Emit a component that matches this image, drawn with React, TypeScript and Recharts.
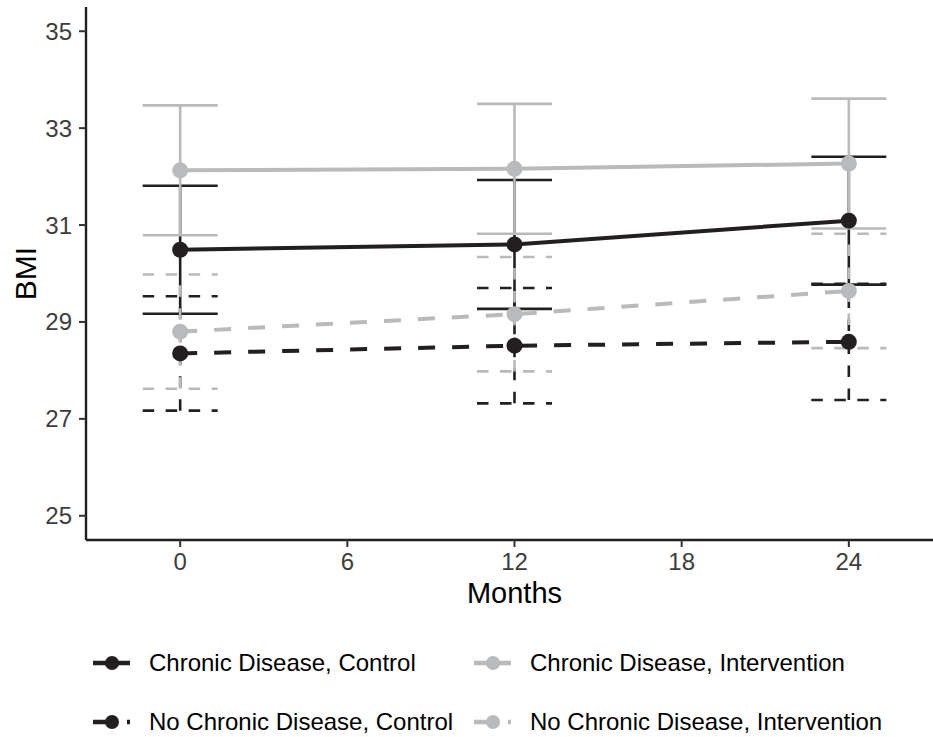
import React from 'react';
import { ComposedChart, ErrorBar, Label, Line, XAxis, YAxis } from 'recharts';

const months = [0, 12, 24];

const chronicControlBmi = [30.49, 30.6, 31.09];
const chronicControlErr = [1.32, 1.33, 1.32];
const chronicInterventionBmi = [32.13, 32.16, 32.27];
const chronicInterventionErr = [1.34, 1.34, 1.34];
const noChronicControlBmi = [28.35, 28.51, 28.59];
const noChronicControlErr = [1.18, 1.19, 1.2];
const noChronicInterventionBmi = [28.8, 29.16, 29.64];
const noChronicInterventionErr = [1.18, 1.18, 1.18];

const xTicks = [0, 6, 12, 18, 24];
const yTicks = [25, 27, 29, 31, 33, 35];

const BLACK = '#231f20';
const GRAY = '#b9babc';
const FONT = '"Liberation Sans", Arial, Helvetica, sans-serif';

type Series = {
  name: string;
  values: number[];
  errors: number[];
  color: string;
  dashed: boolean;
};

const series: Series[] = [
  { name: 'Chronic Disease, Control', values: chronicControlBmi, errors: chronicControlErr, color: BLACK, dashed: false },
  { name: 'Chronic Disease, Intervention', values: chronicInterventionBmi, errors: chronicInterventionErr, color: GRAY, dashed: false },
  { name: 'No Chronic Disease, Control', values: noChronicControlBmi, errors: noChronicControlErr, color: BLACK, dashed: true },
  { name: 'No Chronic Disease, Intervention', values: noChronicInterventionBmi, errors: noChronicInterventionErr, color: GRAY, dashed: true },
];

const toRows = (s: Series) =>
  months.map((m, i) => ({ month: m, bmi: s.values[i], err: s.errors[i] }));

const tickStyle = { fill: '#3d3d3d', fontSize: 24, fontFamily: FONT };

const Legend: React.FC = () => (
  <div
    style={{
      position: 'absolute',
      left: 93,
      top: 648,
      display: 'grid',
      gridTemplateColumns: '381px auto',
      rowGap: 29,
    }}
  >
    {series.map((s) => (
      <div key={s.name} style={{ display: 'flex', alignItems: 'center', height: 30 }}>
        <svg width={37} height={18}>
          <line
            x1={0}
            y1={9}
            x2={37}
            y2={9}
            stroke={s.color}
            strokeWidth={4.5}
            strokeDasharray={s.dashed ? '17 17' : undefined}
          />
          <circle cx={19} cy={9} r={7} fill={s.color} />
        </svg>
        <span style={{ marginLeft: 19, fontSize: 24, fontFamily: FONT, color: '#000', whiteSpace: 'nowrap' }}>
          {s.name}
        </span>
      </div>
    ))}
  </div>
);

export default function App() {
  return (
    <div style={{ position: 'absolute', left: 0, top: 0, width: 933, height: 737, overflow: 'hidden', background: '#fff' }}>
      <ComposedChart width={943} height={737} margin={{ top: 7, right: 0, bottom: 0, left: 0 }}>
        <XAxis
          dataKey='month'
          type='number'
          domain={[-3.38, 27.38]}
          allowDataOverflow
          ticks={xTicks}
          tick={tickStyle}
          tickSize={7}
          tickMargin={6}
          height={197}
          axisLine={{ stroke: BLACK, strokeWidth: 2.4 }}
          tickLine={{ stroke: '#333333', strokeWidth: 2 }}
        >
          <Label
            content={({ viewBox }: any) => (
              <text
                x={viewBox.x + viewBox.width / 2}
                y={viewBox.y + 63}
                textAnchor='middle'
                fontSize={29}
                fontFamily={FONT}
                fill='#000'
              >
                Months
              </text>
            )}
          />
        </XAxis>
        <YAxis
          type='number'
          domain={[24.5, 35.5]}
          allowDataOverflow
          ticks={yTicks}
          tick={tickStyle}
          tickSize={7}
          tickMargin={7}
          width={86}
          axisLine={{ stroke: BLACK, strokeWidth: 2.4 }}
          tickLine={{ stroke: '#333333', strokeWidth: 2 }}
        >
          <Label
            content={({ viewBox }: any) => {
              const x = viewBox.x + 35.5;
              const y = viewBox.y + viewBox.height / 2;
              return (
                <text
                  x={x}
                  y={y}
                  transform={`rotate(-90 ${x} ${y})`}
                  textAnchor='middle'
                  fontSize={30}
                  fontFamily={FONT}
                  fill='#000'
                >
                  BMI
                </text>
              );
            }}
          />
        </YAxis>

        {/* error bars first, so every line and point sits above them */}
        {series.map((s) => (
          <Line
            key={`err-${s.name}`}
            data={toRows(s)}
            dataKey='bmi'
            stroke='none'
            dot={false}
            activeDot={false}
            legendType='none'
            isAnimationActive={false}
          >
            <ErrorBar
              dataKey='err'
              direction='y'
              width={37.5}
              stroke={s.color}
              strokeWidth={2.6}
              strokeDasharray={s.dashed ? '11.5 11.5' : undefined}
              isAnimationActive={false}
            />
          </Line>
        ))}

        {series.map((s) => (
          <Line
            key={s.name}
            name={s.name}
            data={toRows(s)}
            dataKey='bmi'
            type='linear'
            stroke={s.color}
            strokeWidth={4}
            strokeDasharray={s.dashed ? '17 17' : undefined}
            dot={{ r: 8, fill: s.color, stroke: 'none', strokeDasharray: 'none' }}
            activeDot={false}
            isAnimationActive={false}
          />
        ))}
      </ComposedChart>
      <Legend />
    </div>
  );
}
